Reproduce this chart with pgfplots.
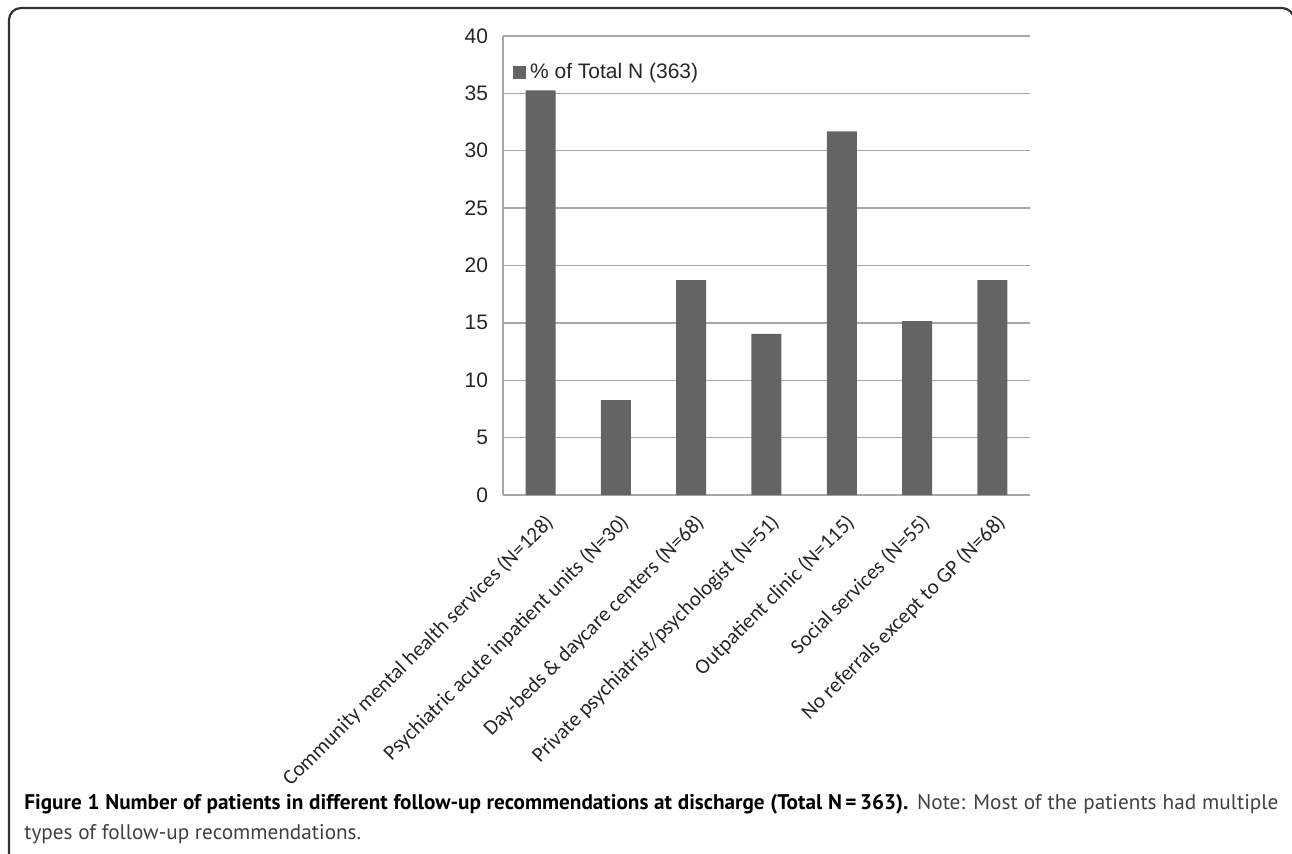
\documentclass[border=0pt]{standalone}
\usepackage{pgfplots}
\pgfplotsset{compat=1.18}
\usepackage{fontspec}
\setmainfont{Liberation Sans}
\newfontfamily\catfont{Carlito}
\newfontfamily\capfont{PT Sans}
\definecolor{barfill}{HTML}{646464}
\definecolor{gridgray}{HTML}{A8A8A8}
\definecolor{textdark}{HTML}{262626}
\definecolor{capgray}{HTML}{404040}

\begin{document}
\begin{tikzpicture}[x=0.5pt,y=0.5pt]
\useasboundingbox (0,0) rectangle (1292,853);
% figure frame
\draw[line width=1.1pt, color=black!80, rounded corners=6pt]
  (9,-10) -- (9,845) -- (1294,845) -- (1294,-10);
\begin{axis}[
  at={(251.5pt,179pt)}, anchor=south west,
  scale only axis, width=263.5pt, height=229.5pt,
  ybar, bar width=15pt,
  xmin=-0.5, xmax=6.5, ymin=0, ymax=40,
  ytick={0,5,...,40},
  xtick=data,
  xticklabels={Community mental health services (N=128),
               Psychiatric acute inpatient units (N=30),
               Day-beds \& daycare centers (N=68),
               Private psychiatrist/psychologist (N=51),
               Outpatient clinic (N=115),
               Social services (N=55),
               No referrals except to GP (N=68)},
  axis x line*=bottom, axis y line*=left,
  axis line style={gridgray, line width=0.7pt},
  ymajorgrids, grid style={gridgray, line width=0.7pt},
  major tick length=0pt,
  /pgf/number format/assume math mode=true,
  yticklabel style={font=\fontsize{10.5}{11}\selectfont, text=textdark, xshift=-4pt},
  % shifts act in the rotated frame of the label
  xticklabel style={font=\catfont\fontsize{10.6}{12}\selectfont, text=textdark,
                    rotate=45, anchor=north east, inner sep=0pt, xshift=-5pt, yshift=-7pt},
  legend style={at={(0.015,0.955)}, anchor=north west, draw=none, fill=none,
                font=\fontsize{10.5}{11}\selectfont, text=textdark, inner sep=1pt,
                /tikz/every even column/.append style={column sep=0pt}},
  legend image code/.code={\fill[barfill] (0pt,-3.2pt) rectangle (6.4pt,3.2pt);},
]
\addplot[fill=barfill, draw=none] coordinates {
  (0,35.26) (1,8.26) (2,18.73) (3,14.05) (4,31.68) (5,15.15) (6,18.73)};
\addlegendentry{\% of Total N (363)}
\end{axis}
% caption
\node[anchor=base west, inner sep=0pt, text=capgray] at (24,44)
  {\capfont\fontsize{10.6}{12}\selectfont\hbox to 627pt{\textbf{\color{black}Figure 1 Number of patients in different follow-up recommendations at discharge (Total N\,=\,363).} Note: Most of the patients had multiple}};
\node[anchor=base west, inner sep=0pt, text=capgray] at (24,14)
  {\capfont\fontsize{10.6}{12}\selectfont types of follow-up recommendations.};
\end{tikzpicture}
\end{document}
